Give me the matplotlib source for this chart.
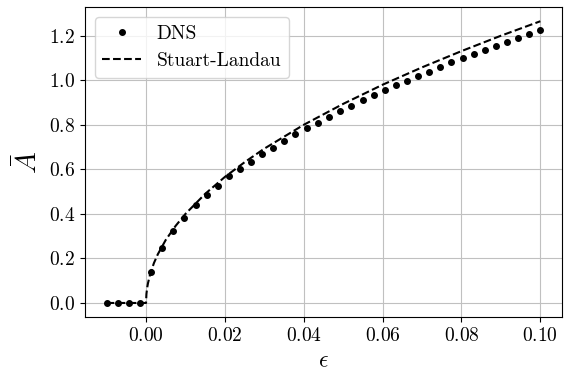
import matplotlib
matplotlib.use('Agg')
import matplotlib.pyplot as plt
import numpy as np

plt.rcParams['font.family'] = 'serif'
plt.rcParams['font.serif'] = ['cmr10']
plt.rcParams['mathtext.fontset'] = 'cm'
plt.rcParams['axes.formatter.use_mathtext'] = True

### DNS samples
eps_dns = [-0.0100, -0.0072, -0.0044, -0.0015, 0.0013, 0.0041, 0.0069, 0.0097,
           0.0126, 0.0154, 0.0182, 0.0210, 0.0238, 0.0267, 0.0295, 0.0323,
           0.0351, 0.0379, 0.0408, 0.0436, 0.0464, 0.0492, 0.0521, 0.0549,
           0.0577, 0.0605, 0.0633, 0.0662, 0.0690, 0.0718, 0.0746, 0.0774,
           0.0803, 0.0831, 0.0859, 0.0887, 0.0915, 0.0944, 0.0972, 0.1000]
a_dns = [0.0, 0.0, 0.0, 0.0, 0.141, 0.247, 0.325, 0.383,
         0.440, 0.485, 0.526, 0.568, 0.600, 0.635, 0.668, 0.698,
         0.728, 0.757, 0.787, 0.810, 0.837, 0.862, 0.884, 0.911,
         0.932, 0.956, 0.977, 0.996, 1.018, 1.039, 1.060, 1.081,
         1.099, 1.119, 1.138, 1.156, 1.172, 1.191, 1.208, 1.226]

### Stuart-Landau amplitude
eps_sl = [-0.01, -0.005, 0.0, 0.0001, 0.0003, 0.0005, 0.001, 0.002, 0.003,
          0.005, 0.0075, 0.01, 0.015, 0.02, 0.025, 0.03, 0.04, 0.05,
          0.06, 0.07, 0.08, 0.09, 0.1]
a_sl = [0.0, 0.0, 0.0, 0.040, 0.069, 0.089, 0.126, 0.179, 0.219,
        0.283, 0.346, 0.400, 0.490, 0.566, 0.632, 0.693, 0.800, 0.894,
        0.980, 1.058, 1.131, 1.200, 1.265]

fig, ax = plt.subplots(figsize=(5.66, 3.77), dpi=100)
fig.subplots_adjust(left=0.150, right=0.993, top=0.981, bottom=0.159)

ax.plot(eps_dns, a_dns, 'k.', markersize=8, label='DNS')
ax.plot(eps_sl, a_sl, 'k--', linewidth=1.5, label='Stuart-Landau')

ax.set_xticks([0.0, 0.02, 0.04, 0.06, 0.08, 0.10])
ax.set_yticks([0.0, 0.2, 0.4, 0.6, 0.8, 1.0, 1.2])
ax.tick_params(labelsize=14)
ax.set_xlabel(r'$\epsilon$', fontsize=17)
ax.set_ylabel(r'$\bar{A}$', fontsize=21)
ax.grid(True, color='#c0c0c0')
ax.set_axisbelow(True)
ax.legend(fontsize=14, loc='upper left', numpoints=1)

fig.savefig('out.png', dpi=100)
